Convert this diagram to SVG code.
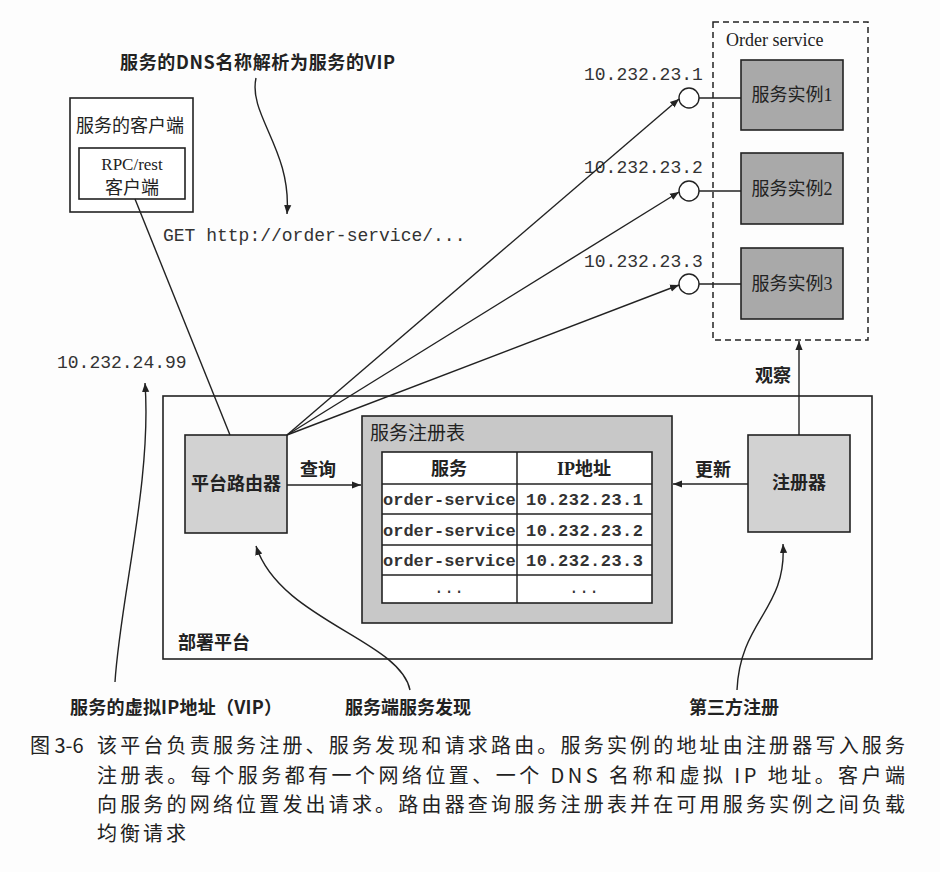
<svg xmlns="http://www.w3.org/2000/svg" width="940" height="872" viewBox="0 0 940 872">
<defs>
<marker id="arr" viewBox="0 0 10 10" refX="10" refY="5" markerWidth="9" markerHeight="9" markerUnits="userSpaceOnUse" orient="auto">
<path d="M0,1 L10,5 L0,9 Z" fill="#222"/>
</marker>
</defs>
<style>
.ln{stroke:#222;stroke-width:1.4;fill:none}
.box{stroke:#222;stroke-width:1.6}
.cn{font-family:"Noto Sans CJK SC",sans-serif;fill:#222}
.b{font-weight:bold}
.mono{font-family:"Liberation Mono","DejaVu Sans Mono",monospace;fill:#333}
.ser{font-family:"Liberation Serif","Noto Sans CJK SC",serif;fill:#222}
</style>
<rect width="940" height="872" fill="#fdfdfd"/>

<!-- annotation labels -->
<text class="cn b" x="120" y="69" font-size="18" textLength="275" lengthAdjust="spacing">服务的DNS名称解析为服务的VIP</text>
<text class="mono" x="163" y="241" font-size="18">GET http://order-service/...</text>
<text class="mono" x="57" y="368" font-size="18">10.232.24.99</text>
<text class="cn b" x="70" y="714" font-size="18" textLength="212" lengthAdjust="spacing">服务的虚拟IP地址（VIP）</text>
<text class="cn b" x="345" y="714" font-size="18">服务端服务发现</text>
<text class="cn b" x="689" y="714" font-size="18">第三方注册</text>

<!-- deployment platform -->
<g id="platform">
<rect class="box" x="163" y="396" width="709" height="263" fill="none"/>
<text class="cn b" x="178" y="649" font-size="18">部署平台</text>
</g>

<!-- client -->
<g id="client">
<rect class="box" x="70" y="98" width="123" height="114" fill="#fff"/>
<text class="ser" x="76" y="132" font-size="18">服务的客户端</text>
<rect class="box" x="79" y="148" width="106" height="51" fill="#fff"/>
<text class="ser" x="132" y="170" font-size="17" text-anchor="middle">RPC/rest</text>
<text class="ser" x="132" y="194" font-size="18" text-anchor="middle">客户端</text>
</g>

<!-- order service -->
<g id="order-service">
<rect x="713" y="22" width="155" height="318" fill="none" stroke="#222" stroke-width="1.5" stroke-dasharray="6,4"/>
<text class="ser" x="726" y="46" font-size="18">Order service</text>
</g>
<g id="instance1">
<rect class="box" x="741" y="60" width="102" height="70" fill="#a9a9a9"/>
<text class="ser" x="792" y="101" font-size="18" text-anchor="middle">服务实例1</text>
</g>
<g id="instance2">
<rect class="box" x="741" y="153" width="102" height="71" fill="#a9a9a9"/>
<text class="ser" x="792" y="195" font-size="18" text-anchor="middle">服务实例2</text>
</g>
<g id="instance3">
<rect class="box" x="741" y="248" width="102" height="71" fill="#a9a9a9"/>
<text class="ser" x="792" y="290" font-size="18" text-anchor="middle">服务实例3</text>
</g>
<g id="ip-labels">
<text class="mono" x="584" y="80" font-size="18">10.232.23.1</text>
<text class="mono" x="584" y="173" font-size="18">10.232.23.2</text>
<text class="mono" x="584" y="267" font-size="18">10.232.23.3</text>
</g>

<!-- router -->
<g id="router">
<rect class="box" x="185" y="435" width="102" height="98" fill="#d2d2d2"/>
<text class="cn b" x="236" y="490" font-size="18" text-anchor="middle">平台路由器</text>
</g>

<!-- registry -->
<g id="registry">
<rect class="box" x="362" y="416" width="310" height="207" fill="#c8c8c8"/>
<text class="ser" x="370" y="440" font-size="19">服务注册表</text>
<rect class="box" x="382" y="452" width="270" height="151" fill="#fff"/>
<g stroke="#222" stroke-width="1.5">
<line x1="517" y1="452" x2="517" y2="603"/>
<line x1="382" y1="484" x2="652" y2="484"/>
<line x1="382" y1="514" x2="652" y2="514"/>
<line x1="382" y1="545" x2="652" y2="545"/>
<line x1="382" y1="575" x2="652" y2="575"/>
</g>
<text class="ser b" x="449" y="475" font-size="18" text-anchor="middle">服务</text>
<text class="ser b" x="584" y="475" font-size="18" text-anchor="middle">IP地址</text>
<g class="mono" font-size="17" font-weight="bold" fill="#222">
<text x="383" y="505">order-service</text>
<text x="383" y="536">order-service</text>
<text x="383" y="566">order-service</text>
<text x="526" y="505" textLength="117">10.232.23.1</text>
<text x="526" y="536" textLength="117">10.232.23.2</text>
<text x="526" y="566" textLength="117">10.232.23.3</text>
<text x="449" y="593" font-weight="normal" text-anchor="middle">...</text>
<text x="584" y="593" font-weight="normal" text-anchor="middle">...</text>
</g>
</g>

<!-- registrar -->
<g id="registrar">
<rect class="box" x="748" y="435" width="102" height="97" fill="#d2d2d2"/>
<text class="ser b" x="799" y="489" font-size="18" text-anchor="middle">注册器</text>
</g>

<!-- connectors -->
<g id="connectors">
<line class="ln" x1="135" y1="199" x2="230" y2="435"/>
<line class="ln" x1="287" y1="435" x2="679" y2="99" marker-end="url(#arr)"/>
<line class="ln" x1="287" y1="435" x2="679" y2="192" marker-end="url(#arr)"/>
<line class="ln" x1="287" y1="435" x2="679" y2="285" marker-end="url(#arr)"/>
<g fill="#fff" stroke="#222" stroke-width="1.4">
<circle cx="689" cy="98" r="10"/>
<circle cx="689" cy="191" r="10"/>
<circle cx="689" cy="284" r="10"/>
</g>
<line class="ln" x1="699" y1="98" x2="741" y2="98"/>
<line class="ln" x1="699" y1="191" x2="741" y2="191"/>
<line class="ln" x1="699" y1="284" x2="741" y2="284"/>
<line class="ln" x1="287" y1="485" x2="361" y2="485" marker-end="url(#arr)"/>
<text class="ser b" x="300" y="476" font-size="18">查询</text>
<line class="ln" x1="748" y1="484" x2="673" y2="484" marker-end="url(#arr)"/>
<text class="ser b" x="695" y="476" font-size="18">更新</text>
<line class="ln" x1="799" y1="435" x2="799" y2="341" marker-end="url(#arr)"/>
<text class="ser b" x="755" y="382" font-size="18">观察</text>
<path class="ln" d="M256,78 C248,115 292,150 287,214" marker-end="url(#arr)"/>
<path class="ln" d="M115,682 C120,600 152,480 145,383" marker-end="url(#arr)"/>
<path class="ln" d="M410,690 C400,640 280,620 256,546" marker-end="url(#arr)"/>
<path class="ln" d="M737,690 C740,620 787,610 783,544" marker-end="url(#arr)"/>
</g>

<!-- caption -->
<g id="caption" class="cn" font-size="20" fill="#1a1a1a">
<text x="30" y="753">图 3-6</text>
<text x="97" y="753" textLength="808" lengthAdjust="spacing">该平台负责服务注册、服务发现和请求路由。服务实例的地址由注册器写入服务</text>
<text x="97" y="783" textLength="808" lengthAdjust="spacing">注册表。每个服务都有一个网络位置、一个 DNS 名称和虚拟 IP 地址。客户端</text>
<text x="97" y="812" textLength="808" lengthAdjust="spacing">向服务的网络位置发出请求。路由器查询服务注册表并在可用服务实例之间负载</text>
<text x="97" y="841" letter-spacing="3">均衡请求</text>
</g>
</svg>
